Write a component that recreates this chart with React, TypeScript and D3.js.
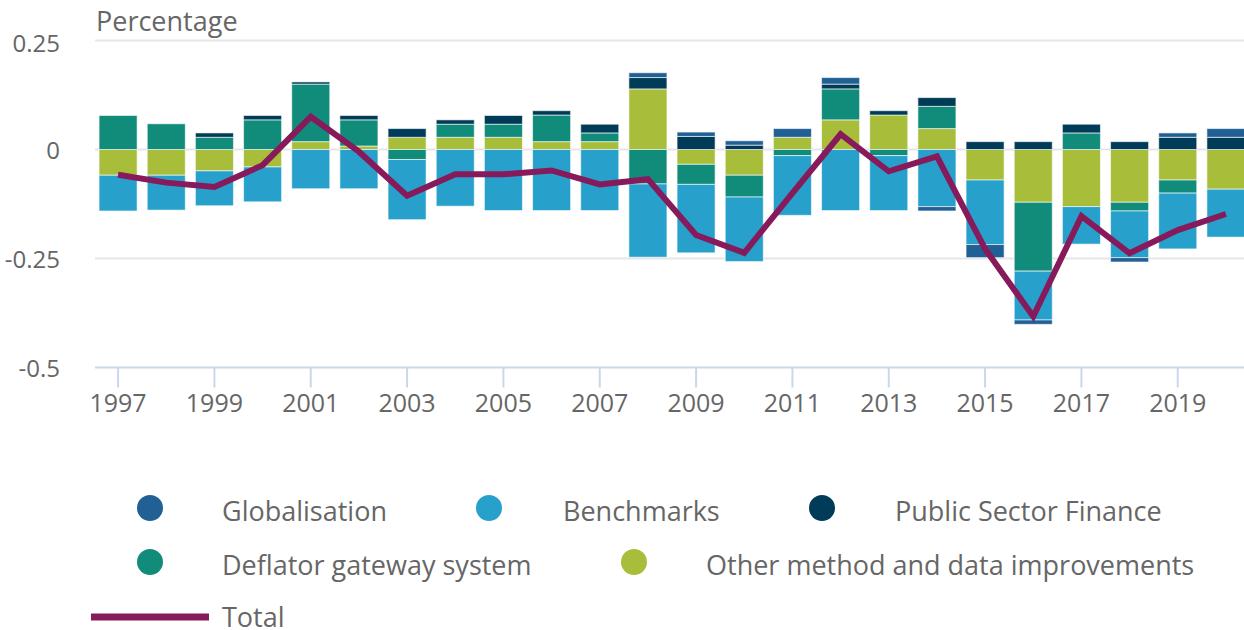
import React, { useEffect, useRef } from "react";
import * as d3 from "d3";

const years = [
  "1997", "1998", "1999", "2000", "2001", "2002", "2003", "2004", "2005", "2006", "2007", "2008",
  "2009", "2010", "2011", "2012", "2013", "2014", "2015", "2016", "2017", "2018", "2019", "2020",
];

const globalisation = [
  0, 0, 0, 0, 0, 0, 0, 0, 0, 0, 0, 0.011,
  0.01, 0.01, 0.02, 0.015, 0, -0.01, -0.03, -0.01, 0, -0.01, 0.01, 0.02,
];
const benchmarks = [
  -0.082, -0.08, -0.08, -0.08, -0.09, -0.09, -0.138, -0.13, -0.14, -0.14, -0.14, -0.168,
  -0.157, -0.148, -0.137, -0.14, -0.126, -0.131, -0.148, -0.112, -0.086, -0.107, -0.128, -0.11,
];
const publicSectorFinance = [
  0, 0, 0.01, 0.01, 0.005, 0.01, 0.02, 0.01, 0.02, 0.01, 0.02, 0.026,
  0.03, 0.01, 0, 0.011, 0.01, 0.02, 0.018, 0.018, 0.02, 0.018, 0.028, 0.028,
];
const deflator = [
  0.078, 0.059, 0.028, 0.068, 0.132, 0.06, -0.023, 0.03, 0.03, 0.061, 0.02, -0.079,
  -0.046, -0.05, -0.014, 0.071, -0.014, 0.051, 0, -0.158, 0.038, -0.02, -0.03, 0,
];
const otherImprovements = [
  -0.059, -0.059, -0.049, -0.04, 0.018, 0.008, 0.028, 0.028, 0.028, 0.018, 0.018, 0.139,
  -0.034, -0.059, 0.028, 0.068, 0.079, 0.048, -0.07, -0.121, -0.131, -0.121, -0.07, -0.091,
];
const total = [
  -0.058, -0.076, -0.086, -0.036, 0.075, -0.005, -0.106, -0.057, -0.057, -0.048, -0.08, -0.068,
  -0.196, -0.237, -0.1, 0.035, -0.05, -0.016, -0.228, -0.383, -0.153, -0.238, -0.185, -0.148,
];

const yTicks = [0.25, 0, -0.25, -0.5];
const yTickLabels = ["0.25", "0", "-0.25", "-0.5"];

// stacking order: first key sits next to zero
const seriesKeys = ["other", "deflator", "psf", "benchmarks", "globalisation"];
const seriesColors: Record<string, string> = {
  globalisation: "#206095",
  benchmarks: "#27a0cc",
  psf: "#003c57",
  deflator: "#118c7b",
  other: "#a8bd3a",
};
const TOTAL_COLOR = "#871a5b";
const TEXT_COLOR = "#666666";
const FONT = "'Open Sans', sans-serif";

const App = () => {
  const ref = useRef<SVGSVGElement | null>(null);
  const width = 1244;
  const height = 630;

  useEffect(() => {
    if (!ref.current) return;
    const svg = d3.select(ref.current);
    svg.selectAll("*").remove();

    const rows = years.map((y, i) => ({
      year: y,
      globalisation: globalisation[i],
      benchmarks: benchmarks[i],
      psf: publicSectorFinance[i],
      deflator: deflator[i],
      other: otherImprovements[i],
    }));

    const x = d3.scaleBand().domain(years).range([94, 1250]).paddingInner(0.21).paddingOuter(0.105);
    const y = d3.scaleLinear().domain([-0.5, 0.25]).range([367.5, 40.5]);

    // grid
    yTicks.slice(0, 3).forEach((t) => {
      svg.append("line")
        .attr("x1", 95).attr("x2", width)
        .attr("y1", y(t)).attr("y2", y(t))
        .attr("stroke", "#e6e6e6").attr("stroke-width", 2);
    });

    // y labels
    yTicks.forEach((t, i) => {
      svg.append("text")
        .attr("x", 60)
        .attr("y", Math.max(y(t) + 9, 52))
        .attr("text-anchor", "end")
        .attr("fill", TEXT_COLOR)
        .style("font-family", FONT)
        .style("font-size", "24px")
        .text(yTickLabels[i]);
    });

    svg.append("text")
      .attr("x", 96).attr("y", 31)
      .attr("fill", TEXT_COLOR)
      .style("font-family", FONT)
      .style("font-size", "27px")
      .text("Percentage");

    // bars
    const stack = d3.stack<any>().keys(seriesKeys).offset(d3.stackOffsetDiverging);
    const stacked = stack(rows);
    stacked.forEach((layer) => {
      svg.append("g")
        .selectAll("rect")
        .data(layer)
        .join("rect")
        .attr("x", (d: any) => x(d.data.year)!)
        .attr("width", x.bandwidth())
        .attr("y", (d) => y(Math.max(d[0], d[1])))
        .attr("height", (d) => Math.abs(y(d[0]) - y(d[1])))
        .attr("fill", seriesColors[layer.key])
        .attr("stroke", "#ffffff")
        .attr("stroke-opacity", 0.6)
        .attr("stroke-width", (d) => (Math.abs(d[1] - d[0]) > 0 ? 1 : 0));
    });

    // x axis
    svg.append("line")
      .attr("x1", 95).attr("x2", width)
      .attr("y1", y(-0.5)).attr("y2", y(-0.5))
      .attr("stroke", "#ccd6eb").attr("stroke-width", 2);
    years.forEach((yr, i) => {
      if (i % 2 !== 0) return;
      const cx = x(yr)! + x.bandwidth() / 2;
      svg.append("line")
        .attr("x1", cx).attr("x2", cx)
        .attr("y1", y(-0.5)).attr("y2", y(-0.5) + 20)
        .attr("stroke", "#ccd6eb").attr("stroke-width", 2);
      svg.append("text")
        .attr("x", cx).attr("y", 412)
        .attr("text-anchor", "middle")
        .attr("fill", TEXT_COLOR)
        .style("font-family", FONT)
        .style("font-size", "25px")
        .text(yr);
    });

    // total line
    const line = d3.line<number>()
      .x((_, i) => x(years[i])! + x.bandwidth() / 2)
      .y((d) => y(d));
    svg.append("path")
      .datum(total)
      .attr("d", line)
      .attr("fill", "none")
      .attr("stroke", TOTAL_COLOR)
      .attr("stroke-width", 6)
      .attr("stroke-linejoin", "miter");

    // legend
    const legendItems = [
      { label: "Globalisation", key: "globalisation", cx: 150, tx: 222, cy: 508 },
      { label: "Benchmarks", key: "benchmarks", cx: 489, tx: 563, cy: 508 },
      { label: "Public Sector Finance", key: "psf", cx: 822, tx: 895, cy: 508 },
      { label: "Deflator gateway system", key: "deflator", cx: 150, tx: 222, cy: 562 },
      { label: "Other method and data improvements", key: "other", cx: 634, tx: 706, cy: 562 },
    ];
    legendItems.forEach((l) => {
      svg.append("circle")
        .attr("cx", l.cx).attr("cy", l.cy).attr("r", 13)
        .attr("fill", seriesColors[l.key]);
      svg.append("text")
        .attr("x", l.tx).attr("y", l.cy + 13)
        .attr("fill", TEXT_COLOR)
        .style("font-family", FONT)
        .style("font-size", "27px")
        .text(l.label);
    });
    svg.append("line")
      .attr("x1", 91).attr("x2", 209)
      .attr("y1", 617).attr("y2", 617)
      .attr("stroke", TOTAL_COLOR).attr("stroke-width", 7);
    svg.append("text")
      .attr("x", 222).attr("y", 627)
      .attr("fill", TEXT_COLOR)
      .style("font-family", FONT)
      .style("font-size", "27px")
      .text("Total");
  }, []);

  return (
    <svg
      ref={ref}
      width={width}
      height={height}
      style={{ position: "absolute", left: 0, top: 0, background: "#fff" }}
    ></svg>
  );
};

export default App;
